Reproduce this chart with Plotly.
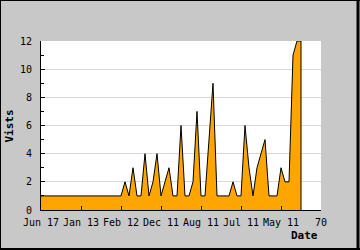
import plotly.graph_objects as go

visits = [1] * 21 + [
    2, 1, 3, 1, 1, 4, 1, 2, 4, 1,
    2, 3, 1, 1, 6, 1, 1, 2, 7, 1,
    1, 5, 9, 1, 1, 1, 1, 2, 1, 1,
    6, 3, 1, 3, 4, 5, 1, 1, 1, 3,
    2, 2, 11, 12, 12,
]
tick_positions = [0, 10, 20, 30, 40, 50, 60, 70]
tick_labels = ["Jun 17", "Jan 13", "Feb 12", "Dec 11", "Aug 11", "Jul 11", "May 11", "70"]
y_ticks = [0, 2, 4, 6, 8, 10, 12]

x = list(range(len(visits)))
# close the area back down to zero at the last point
x_line = x + [x[-1]]
y_line = visits + [0]

W, H = 360, 250
L, R, T, B = 41, 39, 41, 40
pw, ph = W - L - R, H - T - B

def px(p):
    return (p - L) / pw

def py(p):
    return (H - B - p) / ph

mono = "DejaVu Sans Mono"

fig = go.Figure()
fig.add_trace(go.Scatter(
    x=x_line, y=y_line, mode="lines", fill="tozeroy",
    fillcolor="#ffa500", line=dict(color="black", width=1),
    hoverinfo="skip", showlegend=False,
))

fig.update_layout(
    width=W, height=H,
    margin=dict(l=L, r=R, t=T, b=B),
    paper_bgcolor="#c8c8c8",
    plot_bgcolor="white",
    font=dict(family=mono, size=10, color="black"),
    xaxis=dict(
        range=[0, 70], tickvals=tick_positions, ticktext=tick_labels,
        ticks="inside", ticklen=4, tickcolor="black", ticklabelstandoff=3,
        showline=True, linecolor="black", linewidth=1,
        showgrid=False, zeroline=False, fixedrange=True,
    ),
    yaxis=dict(
        range=[0, 12], tickvals=y_ticks,
        ticks="inside", ticklen=4, tickcolor="black", ticklabelstandoff=6,
        minor=dict(dtick=1, ticks="inside", ticklen=3, tickcolor="black", showgrid=False),
        showline=True, linecolor="black", linewidth=1,
        showgrid=True, gridcolor="#d8d8d8", gridwidth=1,
        zeroline=False, fixedrange=True,
    ),
    annotations=[
        dict(text="<b>Vists</b>", x=px(8.5), y=py(126), xref="paper", yref="paper",
             textangle=-90, showarrow=False, font=dict(family=mono, size=11),
             xanchor="center", yanchor="middle"),
        dict(text="<b>Date</b>", x=px(319.5), y=py(236), xref="paper", yref="paper",
             showarrow=False, font=dict(family=mono, size=11),
             xanchor="right", yanchor="middle"),
    ],
    shapes=[
        dict(type="line", xref="paper", yref="paper", x0=px(0), x1=px(360), y0=py(0.5), y1=py(0.5),
             line=dict(color="black", width=1), layer="above"),
        dict(type="line", xref="paper", yref="paper", x0=px(0.5), x1=px(0.5), y0=py(0), y1=py(250),
             line=dict(color="black", width=1), layer="above"),
        dict(type="line", xref="paper", yref="paper", x0=px(0), x1=px(360), y0=py(249), y1=py(249),
             line=dict(color="black", width=2), layer="above"),
        dict(type="line", xref="paper", yref="paper", x0=px(358), x1=px(358), y0=py(0), y1=py(250),
             line=dict(color="black", width=3), layer="above"),
    ],
)

fig.write_html("out.html", config=dict(displayModeBar=False))
